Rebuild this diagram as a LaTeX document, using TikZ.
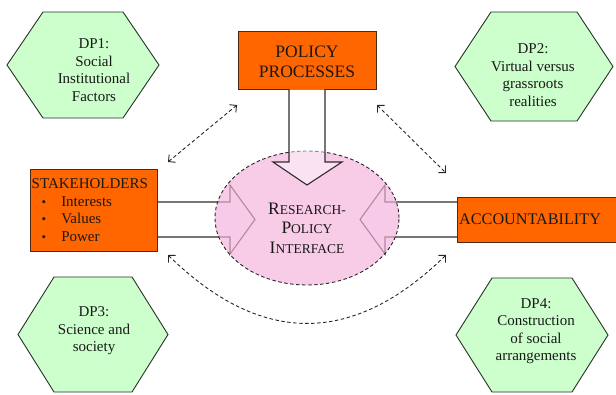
\documentclass[tikz,border=0pt]{standalone}
\usepackage{fontspec}
\setmainfont{Liberation Serif}
\usetikzlibrary{arrows.meta,shapes.geometric}
\definecolor{boxorange}{RGB}{255,102,0}
\definecolor{boxline}{RGB}{80,40,20}
\definecolor{hexfill}{RGB}{204,255,204}
\definecolor{hexline}{RGB}{40,50,40}
\definecolor{ellfill}{RGB}{244,178,220}
\definecolor{arrline}{RGB}{45,45,45}
\newcommand\fakesc[2]{{\fontsize{17.5}{20}\selectfont #1}{\fontsize{13.5}{20}\selectfont #2}}
\newcommand\mybul{{\fontsize{13}{13}\selectfont\textbullet}}
\newcommand\myhex[5]{\draw[hexa] (#1,{(#3+#4)/2}) -- (#1+#5,#3) -- (#2-#5,#3) -- (#2,{(#3+#4)/2}) -- (#2-#5,#4) -- (#1+#5,#4) -- cycle;}
\begin{document}
\begin{tikzpicture}[x=1pt,y=-1pt,
  hexa/.style={fill=hexfill,draw=hexline,line width=0.9pt,line join=miter},
  hextext/.style={align=center,font=\fontsize{15}{17.5}\selectfont,text=black!90,inner sep=0},
  obox/.style={fill=boxorange,draw=boxline,line width=1pt,inner sep=0},
  blockarrow/.style={fill=white,draw=arrline,line width=1.1pt,line join=miter},
  dasharrow/.style={draw=black!85,line width=0.9pt,dash pattern=on 3.5pt off 2.5pt,
     {Straight Barb[length=5pt,width=10pt]}-{Straight Barb[length=5pt,width=10pt]}}]
\useasboundingbox (0,0) rectangle (616,394);

% hexagons
\myhex{7}{159}{12}{118}{36}
\node[hextext] (dp1) at (94,70) {DP1:\\Social\\Institutional\\Factors};
\myhex{455}{613}{12}{121}{36}
\node[hextext] (dp2) at (533,75) {DP2:\\Virtual versus\\grassroots\\realities};
\myhex{18}{168}{277}{392}{36}
\node[hextext] (dp3) at (94,331) {DP3:\\Science and\\society};
\myhex{456}{608}{278}{392}{36}
\node[hextext] (dp4) at (536,331) {DP4:\\Construction\\of social\\arrangements};

% side block arrows (under the ellipse)
\draw[blockarrow] (157,202) -- (230,202) -- (230,185) -- (255,219.5) -- (230,254) -- (230,237) -- (157,237);
\draw[blockarrow] (457,202) -- (385,202) -- (385,185) -- (360,219.5) -- (385,254) -- (385,237) -- (457,237);

% ellipse
\node[ellipse,minimum width=184pt,minimum height=134pt,fill=ellfill,fill opacity=0.68,
      draw=black!85,line width=0.9pt,dash pattern=on 3.5pt off 2.5pt,inner sep=0] (rpi) at (307,218) {};

% boxes
\node[obox,minimum width=127pt,minimum height=82pt] (stake) at (93.5,210) {};
\node[anchor=north west,inner sep=0,font=\fontsize{15}{17.7}\selectfont,text=black!90] (staketext) at (31.5,176)
  {\begin{tabular}{@{}l@{}}STAKEHOLDERS\\\hspace{10pt}\mybul\hspace{15pt}Interests\\
   \hspace{10pt}\mybul\hspace{15pt}Values\\
   \hspace{10pt}\mybul\hspace{15pt}Power\end{tabular}};
\node[obox,minimum width=160pt,minimum height=45pt] (acc) at (537,219.5) {};
\node[anchor=west,inner sep=0,font=\fontsize{16.2}{18}\selectfont,text=black!90] (acctext) at (459,219) {ACCOUNTABILITY};
\node[obox,minimum width=138pt,minimum height=58pt] (pol) at (307,60) {};
\node[align=center,inner sep=0,font=\fontsize{17.5}{20}\selectfont,text=black!90] (poltext) at (307,62) {POLICY\\PROCESSES};

% top block arrow
\draw[blockarrow,fill opacity=0.45] (289,89) -- (289,162) -- (273,162) -- (307,185) -- (342,162) -- (325,162) -- (325,89);

% ellipse text
\node[align=center,inner sep=0,text=black!90,font=\fontsize{17.5}{19.5}\selectfont] (rpitext) at (307,228) {\fakesc{R}{ESEARCH-}\\\fakesc{P}{OLICY}\\\fakesc{I}{NTERFACE}};

% dashed double arrows
\coordinate (ul1) at (168,162); \coordinate (ul2) at (237,105);
\coordinate (ur1) at (377,105); \coordinate (ur2) at (446,173);
\coordinate (bl) at (168,255); \coordinate (br) at (446,255);
\draw[dasharrow] (ul1) -- (ul2);
\draw[dasharrow] (ur1) -- (ur2);
\draw[dasharrow] (bl) .. controls (261,346) and (353,346) .. (br);
\end{tikzpicture}
\end{document}
